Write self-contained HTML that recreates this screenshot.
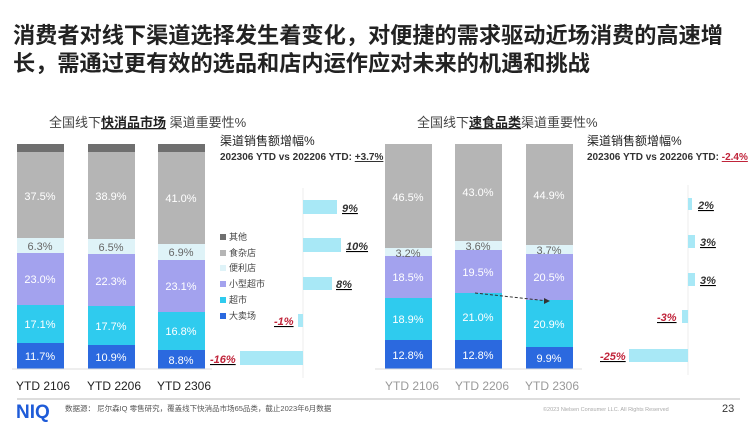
<!DOCTYPE html>
<html><head><meta charset="utf-8"><style>
body{margin:0;background:#fff;}
svg text{font-family:"Liberation Sans","Noto Sans CJK SC",sans-serif;}
</style></head><body>
<svg width="750" height="422" viewBox="0 0 750 422" xmlns="http://www.w3.org/2000/svg">
<text x="13" y="43" font-size="22.2" font-weight="bold" fill="#222">消费者对线下渠道选择发生着变化，对便捷的需求驱动近场消费的高速增</text>
<text x="13" y="71" font-size="22.2" font-weight="bold" fill="#222">长，需通过更有效的选品和店内运作应对未来的机遇和挑战</text>

<text x="49" y="127" font-size="13" fill="#444">全国线下<tspan font-weight="bold" fill="#222" text-decoration="underline">快消品市场</tspan> 渠道重要性%</text>
<g font-size="11" fill="#fff" text-anchor="middle">
<rect x="17" y="144" width="47" height="8" fill="#6f6f6f"/><rect x="17" y="152" width="47" height="86" fill="#b5b5b5"/><rect x="17" y="238" width="47" height="15" fill="#dff3f8"/><rect x="17" y="253" width="47" height="52" fill="#a3a2ee"/><rect x="17" y="305" width="47" height="38" fill="#2fcbee"/><rect x="17" y="343" width="47" height="26" fill="#2b69df"/>
<text x="40" y="200">37.5%</text><text x="40" y="250" fill="#666">6.3%</text><text x="40" y="283">23.0%</text><text x="40" y="328">17.1%</text><text x="40" y="360">11.7%</text>
<rect x="88" y="144" width="47" height="8" fill="#6f6f6f"/><rect x="88" y="152" width="47" height="87" fill="#b5b5b5"/><rect x="88" y="239" width="47" height="15" fill="#dff3f8"/><rect x="88" y="254" width="47" height="52" fill="#a3a2ee"/><rect x="88" y="306" width="47" height="39" fill="#2fcbee"/><rect x="88" y="345" width="47" height="24" fill="#2b69df"/>
<text x="111" y="200">38.9%</text><text x="111" y="251" fill="#666">6.5%</text><text x="111" y="285">22.3%</text><text x="111" y="330">17.7%</text><text x="111" y="361">10.9%</text>
<rect x="158" y="144" width="47" height="8" fill="#6f6f6f"/><rect x="158" y="152" width="47" height="92" fill="#b5b5b5"/><rect x="158" y="244" width="47" height="16" fill="#dff3f8"/><rect x="158" y="260" width="47" height="52" fill="#a3a2ee"/><rect x="158" y="312" width="47" height="38" fill="#2fcbee"/><rect x="158" y="350" width="47" height="19" fill="#2b69df"/>
<text x="181" y="202">41.0%</text><text x="181" y="256" fill="#666">6.9%</text><text x="181" y="290">23.1%</text><text x="181" y="335">16.8%</text><text x="181" y="364">8.8%</text>
</g>
<line x1="12" y1="369" x2="212" y2="369" stroke="#ddd"/>
<g font-size="12" fill="#222"><text x="16" y="390">YTD 2106</text><text x="87" y="390">YTD 2206</text><text x="157" y="390">YTD 2306</text></g>
<g font-size="9" fill="#444">
<rect x="220" y="234" width="6" height="6" fill="#6f6f6f"/><text x="229" y="240">其他</text>
<rect x="220" y="250" width="6" height="6" fill="#b5b5b5"/><text x="229" y="256">食杂店</text>
<rect x="220" y="265" width="6" height="6" fill="#dff3f8"/><text x="229" y="271">便利店</text>
<rect x="220" y="281" width="6" height="6" fill="#a3a2ee"/><text x="229" y="287">小型超市</text>
<rect x="220" y="297" width="6" height="6" fill="#2fcbee"/><text x="229" y="303">超市</text>
<rect x="220" y="313" width="6" height="6" fill="#2b69df"/><text x="229" y="319">大卖场</text>
</g>
<text x="220" y="145" font-size="12" fill="#222">渠道销售额增幅%</text>
<text x="220" y="160" font-size="10" font-weight="bold" fill="#333">202306 YTD vs 202206 YTD: <tspan text-decoration="underline">+3.7%</tspan></text>
<line x1="303" y1="188" x2="303" y2="378" stroke="#eee"/>
<g fill="#a8e8f6"><rect x="303" y="200" width="34" height="14"/><rect x="303" y="238" width="38" height="14"/><rect x="303" y="277" width="29" height="13"/><rect x="298" y="314" width="5" height="13"/><rect x="240" y="351" width="63" height="14"/></g>
<g font-size="11" font-weight="bold" font-style="italic" text-decoration="underline"><text x="342" y="212" fill="#333">9%</text><text x="346" y="250" fill="#333">10%</text><text x="336" y="288" fill="#333">8%</text><text x="274" y="325" fill="#c0243a">-1%</text><text x="210" y="363" fill="#c0243a">-16%</text></g>

<text x="417" y="127" font-size="13" fill="#444">全国线下<tspan font-weight="bold" fill="#222" text-decoration="underline">速食品类</tspan>渠道重要性%</text>
<g font-size="11" fill="#fff" text-anchor="middle">
<rect x="385" y="144" width="47" height="104" fill="#b5b5b5"/><rect x="385" y="248" width="47" height="8" fill="#dff3f8"/><rect x="385" y="256" width="47" height="42" fill="#a3a2ee"/><rect x="385" y="298" width="47" height="42" fill="#2fcbee"/><rect x="385" y="340" width="47" height="29" fill="#2b69df"/>
<text x="408" y="201">46.5%</text><text x="408" y="257" fill="#666">3.2%</text><text x="408" y="281">18.5%</text><text x="408" y="323">18.9%</text><text x="408" y="359">12.8%</text>
<rect x="455" y="144" width="47" height="97" fill="#b5b5b5"/><rect x="455" y="241" width="47" height="9" fill="#dff3f8"/><rect x="455" y="250" width="47" height="43" fill="#a3a2ee"/><rect x="455" y="293" width="47" height="47" fill="#2fcbee"/><rect x="455" y="340" width="47" height="29" fill="#2b69df"/>
<text x="478" y="196">43.0%</text><text x="478" y="250" fill="#666">3.6%</text><text x="478" y="276">19.5%</text><text x="478" y="321">21.0%</text><text x="478" y="359">12.8%</text>
<rect x="526" y="144" width="47" height="101" fill="#b5b5b5"/><rect x="526" y="245" width="47" height="9" fill="#dff3f8"/><rect x="526" y="254" width="47" height="46" fill="#a3a2ee"/><rect x="526" y="300" width="47" height="47" fill="#2fcbee"/><rect x="526" y="347" width="47" height="22" fill="#2b69df"/>
<text x="549" y="199">44.9%</text><text x="549" y="254" fill="#666">3.7%</text><text x="549" y="281">20.5%</text><text x="549" y="328">20.9%</text><text x="549" y="362">9.9%</text>
</g>
<line x1="475" y1="293" x2="548" y2="301" stroke="#333" stroke-dasharray="3,2"/>
<polygon points="550,301 544,298 544,304" fill="#333"/>
<line x1="375" y1="369" x2="582" y2="369" stroke="#ddd"/>
<g font-size="12" fill="#999"><text x="385" y="390">YTD 2106</text><text x="455" y="390">YTD 2206</text><text x="525" y="390">YTD 2306</text></g>
<text x="587" y="145" font-size="12" fill="#222">渠道销售额增幅%</text>
<text x="587" y="160" font-size="10" font-weight="bold" fill="#333">202306 YTD vs 202206 YTD: <tspan fill="#c0243a" text-decoration="underline">-2.4%</tspan></text>
<line x1="688" y1="185" x2="688" y2="375" stroke="#eee"/>
<g fill="#a8e8f6"><rect x="688" y="198" width="4" height="12"/><rect x="688" y="235" width="7" height="13"/><rect x="688" y="273" width="7" height="13"/><rect x="682" y="310" width="6" height="13"/><rect x="629" y="349" width="59" height="13"/></g>
<g font-size="11" font-weight="bold" font-style="italic" text-decoration="underline"><text x="698" y="209" fill="#333">2%</text><text x="700" y="246" fill="#333">3%</text><text x="700" y="284" fill="#333">3%</text><text x="657" y="321" fill="#c0243a">-3%</text><text x="600" y="360" fill="#c0243a">-25%</text></g>

<line x1="17" y1="399" x2="740" y2="399" stroke="#bbb"/>
<text x="16" y="418" font-size="19" font-weight="bold" fill="#1e5bd8">NIQ</text>
<text x="65" y="411" font-size="7.5" fill="#555">数据源：  尼尔森IQ 零售研究，覆盖线下快消品市场65品类，截止2023年6月数据</text>
<text x="543" y="411" font-size="5.5" fill="#aaa">©2023 Nielsen Consumer LLC. All Rights Reserved</text>
<text x="722" y="412" font-size="11" fill="#333">23</text>
</svg>
</body></html>
